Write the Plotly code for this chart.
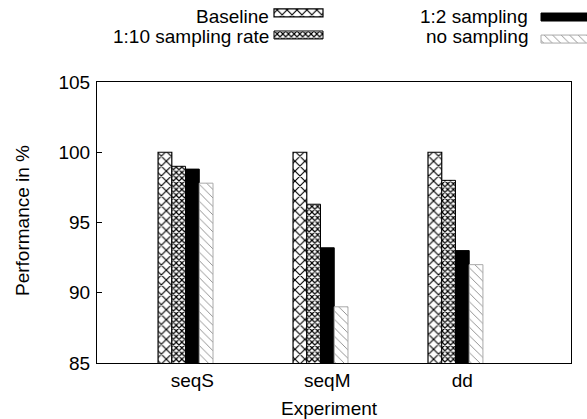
import plotly.graph_objects as go

categories = ["seqS", "seqM", "dd"]
series_names = ["Baseline", "1:10 sampling rate", "1:2 sampling", "no sampling"]
baseline = [100.0, 100.0, 100.0]
sampling_10 = [99.0, 96.3, 98.0]
sampling_2 = [98.8, 93.2, 93.0]
no_sampling = [97.8, 89.0, 92.0]
y_ticks = [85, 90, 95, 100, 105]

W, H = 587, 419
FONT = "Liberation Sans, Arial, sans-serif"
FS = 19

styles = [
    dict(pattern=dict(shape="x", fgcolor="black", bgcolor="white", size=7, solidity=0.3),
         line=dict(color="black", width=1.2)),
    dict(pattern=dict(shape="x", fgcolor="black", bgcolor="white", size=4, solidity=0.5),
         line=dict(color="black", width=1)),
    dict(pattern=dict(shape="", fgcolor="black", bgcolor="black"), color="black",
         line=dict(color="black", width=1)),
    dict(pattern=dict(shape="\\", fgcolor="#888888", bgcolor="white", size=6, solidity=0.15),
         line=dict(color="#aaaaaa", width=1)),
]

all_vals = [baseline, sampling_10, sampling_2, no_sampling]
xs = list(range(len(categories)))

fig = go.Figure()
for name, vals, st in zip(series_names, all_vals, styles):
    marker = dict(pattern=st["pattern"], line=st["line"], color=st.get("color", "white"))
    fig.add_trace(go.Bar(x=xs, y=vals, name=name, marker=marker, showlegend=False))

# custom legend (text left of swatch, as in the reference)
leg_rows = [16, 36]
leg_cols = [(271, 274), (530, 541)]
slots = [(0, 0), (0, 1), (1, 0), (1, 1)]
for (c, r), name, st in zip(slots, series_names, styles):
    tx, sx = leg_cols[c]
    yy = leg_rows[r]
    marker = dict(pattern=st["pattern"], line=st["line"], color=st.get("color", "white"))
    fig.add_trace(go.Bar(x=[49], base=[sx], y=[yy], orientation="h", width=8,
                         marker=marker, xaxis="x2", yaxis="y2", showlegend=False,
                         hoverinfo="skip"))
    fig.add_annotation(x=tx / W, y=1 - yy / H, xref="paper", yref="paper", text=name,
                       showarrow=False, xanchor="right", yanchor="middle",
                       font=dict(family=FONT, size=FS, color="black"))

fig.add_annotation(x=329 / W, y=1 - 408 / H, xref="paper", yref="paper", text="Experiment",
                   showarrow=False, xanchor="center", yanchor="middle",
                   font=dict(family=FONT, size=FS, color="black"))
fig.add_annotation(x=23 / W, y=1 - 221 / H, xref="paper", yref="paper", text="Performance in %",
                   showarrow=False, textangle=-90, xanchor="center", yanchor="middle",
                   font=dict(family=FONT, size=FS, color="black"))

fig.update_layout(
    template="none",
    width=W, height=H,
    margin=dict(l=0, r=0, t=0, b=0, pad=0, autoexpand=False),
    paper_bgcolor="white", plot_bgcolor="rgba(0,0,0,0)",
    barmode="group", bargap=0.593, bargroupgap=0,
    font=dict(family=FONT, size=FS, color="black"),
    xaxis=dict(domain=[97 / W, 571 / W], range=[-0.656, 2.856],
               tickvals=[x + 0.05 for x in xs], ticktext=categories,
               ticks="", showline=True, linecolor="black", linewidth=1, mirror=True,
               showgrid=False, zeroline=False, ticklabelstandoff=0, automargin=False),
    yaxis=dict(domain=[1 - 363 / H, 1 - 82 / H], range=[85, 105],
               tickvals=y_ticks, ticks="inside", ticklen=5, tickcolor="black",
               showline=True, linecolor="black", linewidth=1, mirror=True,
               showgrid=False, zeroline=False, ticklabelstandoff=2, automargin=False),
    xaxis2=dict(domain=[0, 1], range=[0, W], visible=False, anchor="y2",
                fixedrange=True, automargin=False),
    yaxis2=dict(domain=[0, 1], range=[H, 0], visible=False, anchor="x2",
                fixedrange=True, automargin=False),
)

fig.write_html("out.html", config={"displayModeBar": False},
               post_script="document.body.style.margin='0';document.body.style.overflow='hidden';")
